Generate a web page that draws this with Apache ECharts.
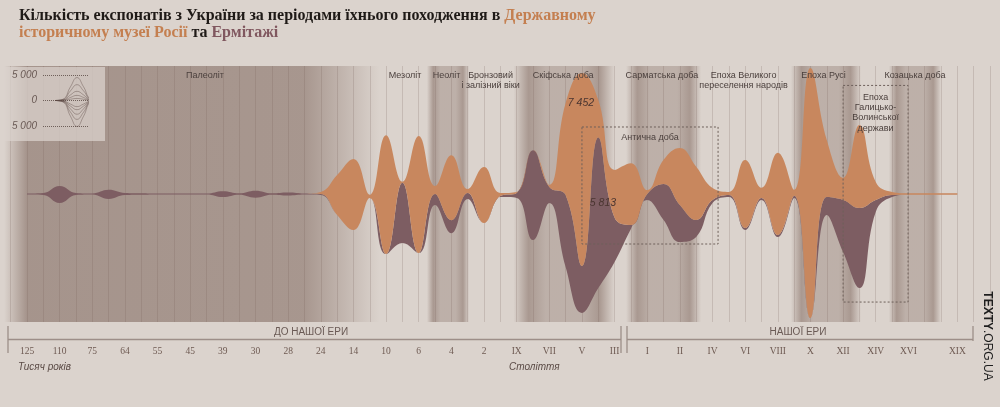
<!DOCTYPE html>
<html><head><meta charset="utf-8">
<script src="https://cdn.jsdelivr.net/npm/echarts@6/dist/echarts.min.js"></script>
<style>html,body{margin:0;padding:0;background:#dbd3cd;}#c{width:1000px;height:407px;}</style>
</head><body><div id="c"></div>
<script>
// x positions: one step per grid line; labels on every other step
const tickLabels = ['125','','110','','75','','64','','55','','45','','39','','30','','28','','24','',
  '14','','10','','6','','4','','2','','IX','','VII','','V','','III','','I','',
  'II','','IV','','VI','','VIII','','X','','XII','','XIV','','XVI','','','XIX','',''];
// lower edge of the stream (exhibits, below centre line)
const baseline = [-20,-40,-350,-40,-20,-190,-40,-30,-20,-20,-20,-20,-120,-30,-140,-30,-60,-20,-40,-810,
  -1390,-150,-2320,-1890,-2280,-420,-1510,-190,-1120,-120,-150,-1780,-350,-2820,-4590,-3630,-2620,-1350,-230,-1000,
  -1850,-1660,-350,-120,-1390,-230,-1660,-150,-4790,-810,-2240,-3630,-690,-120,-30,-30,-30,-30];
// Ермітаж
const hermitage = [40,80,660,80,40,350,80,60,40,40,40,40,230,60,270,60,120,40,40,0,
  0,0,0,2320,0,420,500,230,0,40,190,3470,620,2780,1810,5813,1700,150,230,1390,
  1430,660,120,80,80,80,80,80,0,690,2010,3090,460,80,0,0,0,0];
// Державний історичний музей
const museum = [0,0,0,0,0,0,0,0,0,0,0,0,0,0,0,0,0,0,80,1540,
  2740,120,4590,40,4520,310,2510,150,2160,120,40,0,80,3550,7452,1450,1850,2390,150,930,
  2200,2050,460,120,2620,390,3170,230,9650,2200,850,3200,690,120,60,60,60,60];

const periodNames = ['Палеоліт','Мезоліт','Неоліт','Бронзовий\nі залізний віки','Скіфська доба',
  'Сарматська доба','Епоха Великого\nпереселення народів','Епоха Русі','Козацька доба'];
const periodCenters = [10.9, 23.16, 25.7, 28.4, 32.85, 38.9, 43.9, 48.8, 54.4];
const bandRanges = [[-1.4, 21.6], [24.5, 27.1], [29.8, 36.0], [36.7, 41.3], [46.8, 51.1], [52.8, 56.0]];

const legendX = [2.4, 4.0, 5.5, 6.8, 8.1, 9.6, 11.2];
const legendCurves = [
  [0, 250, 2700, 4500, 2700, 250, 0],
  [0, 180, 1900, 3100, 1900, 180, 0],
  [0, 100, 1100, 1800, 1100, 100, 0],
  [0, 60, 600, 1000, 600, 60, 0],
  [0, 25, 250, 400, 250, 25, 0],
  [0, -300, -3100, -5100, -3100, -300, 0],
  [0, -220, -2300, -3700, -2300, -220, 0],
  [0, -160, -1650, -2700, -1650, -160, 0],
  [0, -110, -1100, -1800, -1100, -110, 0],
  [0, -70, -700, -1200, -700, -70, 0]
];

const fmt = v => String(v).replace(/\B(?=(\d{3})+(?!\d))/g, ' ');
const XMIN = -2, XMAX = 59;
const cats = [];
for (let k = XMIN; k <= XMAX; k++) cats.push(String(k));
const pad = arr => new Array(-XMIN).fill('-').concat(arr);

const BR = 'rgba(120,95,85,';
const paleoGrad = {type:'linear', x:0, y:0, x2:1, y2:0, colorStops:[
  {offset:0, color:BR+'0)'},{offset:0.06, color:BR+'0.54)'},{offset:0.8, color:BR+'0.52)'},{offset:1, color:BR+'0)'}]};
const bandGrad = {type:'linear', x:0, y:0, x2:1, y2:0, colorStops:[
  {offset:0, color:BR+'0)'},{offset:0.15, color:BR+'0.5)'},{offset:0.32, color:BR+'0.3)'},
  {offset:0.68, color:BR+'0.3)'},{offset:0.85, color:BR+'0.5)'},{offset:1, color:BR+'0)'}]};

const chart = echarts.init(document.getElementById('c'), null, {renderer:'canvas'});
const serifT = 'Liberation Serif';
const sans = 'Liberation Sans';

const series = [
  { type:'line', name:'bands', data:[], z:1, silent:true,
    markArea:{ silent:true, z:1, label:{show:false},
      data: bandRanges.map((r,k)=>[{xAxis:r[0], itemStyle:{color:k===0?paleoGrad:bandGrad}},{xAxis:r[1]}]) } },
  { type:'line', name:'base', xAxisIndex:2, stack:'s', stackStrategy:'all', data:pad(baseline), symbol:'none',
    smooth:0.45, lineStyle:{width:0, opacity:0}, z:2, silent:true },
  { type:'line', name:'Ермітаж', xAxisIndex:2, stack:'s', stackStrategy:'all', data:pad(hermitage), symbol:'none',
    smooth:0.45, lineStyle:{width:0}, areaStyle:{color:'#7d5d62', opacity:1}, z:2, silent:true },
  { type:'line', name:'ДІМ', xAxisIndex:2, stack:'s', stackStrategy:'all', data:pad(museum), symbol:'none',
    smooth:0.45, lineStyle:{width:0}, areaStyle:{color:'#c8875e', opacity:1}, z:2, silent:true },
  { type:'line', name:'annot', data:[], z:10, silent:true,
    markArea:{ silent:true, z:10,
      label:{show:true, position:'insideTop', distance:4, color:'#4a3f3c', fontSize:9, fontFamily:sans, lineHeight:10.5},
      data: periodNames.map((n,k)=>[{name:n, xAxis:periodCenters[k]-1, itemStyle:{color:'rgba(0,0,0,0)'}},{xAxis:periodCenters[k]+1}])
        .concat([
          [{name:'Антична доба', xAxis:34.0, yAxis:2586, itemStyle:{color:'rgba(0,0,0,0)', borderColor:'#6e605a', borderWidth:1, borderType:[2,2]},
            label:{distance:6}}, {xAxis:42.34, yAxis:-1930}],
          [{name:'Епоха\nГалицько-\nВолинської\nдержави', xAxis:50.0, yAxis:4190, itemStyle:{color:'rgba(0,0,0,0)', borderColor:'#6e605a', borderWidth:1, borderType:[2,2]},
            label:{distance:7, lineHeight:10.4}}, {xAxis:53.98, yAxis:-4170}]
        ]) },
    markPoint:{ silent:true, z:11, symbol:'rect', symbolSize:1, itemStyle:{color:'rgba(0,0,0,0)'},
      label:{show:true, position:'inside', fontStyle:'italic', fontSize:10.5, fontFamily:sans, color:'#4a3530', formatter:p=>fmt(p.value)},
      data:[ {coord:[33.94, 3513], value:museum[34]}, {coord:[35.29, -347], value:hermitage[35]} ] } }
];
legendCurves.forEach(c => series.push({
  type:'line', xAxisIndex:1, yAxisIndex:1, data:c.map((v,i)=>[legendX[i], v]), symbol:'none', smooth:0.5,
  clip:false, silent:true, z:6, lineStyle:{width:0.7, color:'rgba(95,75,70,0.6)'}
}));

const textStyleBase = {fontFamily:serifT, fontWeight:'bold', fontSize:16, lineHeight:17};
const gridLeft = 27 + XMIN*16.322;
chart.setOption({
  animation:false,
  backgroundColor:'#dbd3cd',
  title:{ left:14, top:2,
    text:'{a|Кількість експонатів з України за періодами їхнього походження в }{o|Державному}\n{o|історичному музеї Росії}{a| та }{p|Ермітажі}',
    textStyle:Object.assign({color:'#1f1a17', rich:{
      a:Object.assign({color:'#1f1a17'}, textStyleBase),
      o:Object.assign({color:'#c47f50'}, textStyleBase),
      p:Object.assign({color:'#80575f'}, textStyleBase)}}, textStyleBase) },
  grid:[
    {left:gridLeft, right:10, top:66, bottom:85, containLabel:false, outerBoundsMode:'none'},
    {left:43, top:75, width:45, height:51, containLabel:false, outerBoundsMode:'none'}
  ],
  xAxis:[
    {type:'value', gridIndex:0, min:XMIN, max:XMAX, interval:1,
      axisLine:{show:false}, axisTick:{show:false},
      splitLine:{show:true, lineStyle:{color:'rgba(110,88,78,0.2)', width:1}},
      axisLabel:{margin:24, formatter:v=>tickLabels[v]||'', fontFamily:serifT, fontSize:9.5, color:'#6e5a52',
        showMinLabel:true, showMaxLabel:true}},
    {type:'value', gridIndex:1, min:0, max:9, show:false},
    {type:'category', gridIndex:0, data:cats, boundaryGap:false, show:false}
  ],
  yAxis:[
    {type:'value', gridIndex:0, min:-4940, max:4940, show:false},
    {type:'value', gridIndex:1, min:-5000, max:5000, interval:5000, z:6,
      axisLine:{show:false}, axisTick:{show:false},
      axisLabel:{margin:6, formatter:v=>v===0?'0':fmt(Math.abs(v)), fontStyle:'italic', fontSize:10, fontFamily:sans, color:'#6a5a55'},
      splitLine:{show:true, lineStyle:{type:'dotted', color:'#6f605a', width:1}}}
  ],
  series:series,
  graphic:{elements:[
    {type:'rect', z:3, shape:{x:0, y:67, width:105, height:74}, style:{fill:'rgba(219,211,205,0.74)'}},
    {type:'line', shape:{x1:8, y1:326, x2:8, y2:353}, style:{stroke:'#9d8e88', lineWidth:1.3}},
    {type:'line', shape:{x1:8, y1:339.5, x2:621, y2:339.5}, style:{stroke:'#9d8e88', lineWidth:1.3}},
    {type:'line', shape:{x1:621, y1:326, x2:621, y2:353}, style:{stroke:'#9d8e88', lineWidth:1.3}},
    {type:'line', shape:{x1:627, y1:326, x2:627, y2:353}, style:{stroke:'#9d8e88', lineWidth:1.3}},
    {type:'line', shape:{x1:627, y1:339.5, x2:973, y2:339.5}, style:{stroke:'#9d8e88', lineWidth:1.3}},
    {type:'line', shape:{x1:973, y1:326, x2:973, y2:341}, style:{stroke:'#9d8e88', lineWidth:1.3}},
    {type:'text', x:311, y:332, style:{text:'ДО НАШОЇ ЕРИ', fill:'#6a5a55', fontSize:10, fontFamily:sans, align:'center', verticalAlign:'middle'}},
    {type:'text', x:798, y:332, style:{text:'НАШОЇ ЕРИ', fill:'#6a5a55', fontSize:10, fontFamily:sans, align:'center', verticalAlign:'middle'}},
    {type:'text', x:18, y:367, style:{text:'Тисяч років', fill:'#5a4a45', fontSize:10, fontStyle:'italic', fontFamily:sans, align:'left', verticalAlign:'middle'}},
    {type:'text', x:509, y:367, style:{text:'Століття', fill:'#5a4a45', fontSize:10, fontStyle:'italic', fontFamily:sans, align:'left', verticalAlign:'middle'}},
    {type:'text', x:987, y:336, rotation:-Math.PI/2, style:{text:'{b|TEXTY}{n|.ORG.UA}', align:'center', verticalAlign:'middle',
      rich:{b:{fontWeight:'bold', fontSize:12, fontFamily:sans, fill:'#1e1e1e'}, n:{fontSize:12, fontFamily:sans, fill:'#1e1e1e'}}}}
  ]}
});
</script></body></html>
